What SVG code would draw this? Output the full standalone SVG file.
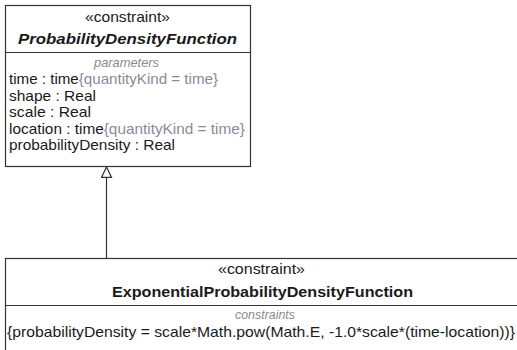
<svg xmlns="http://www.w3.org/2000/svg" width="517" height="350" viewBox="0 0 517 350">
<defs>
<style>
.box{fill:#fff;stroke:#333;stroke-width:1.2}
.div{stroke:#333;stroke-width:1.2}
text{font-family:"Liberation Sans",Arial,sans-serif;font-size:15px;fill:#1a1a1a}
.c{text-anchor:middle}
.b{font-weight:bold}
.bi{font-weight:bold;font-style:italic}
.cap{font-style:italic;fill:#8a8a8a;font-size:13px}
.g{fill:#8a8a9a}
.edge{stroke:#333;stroke-width:1.2;fill:none}
</style>
<marker id="gen" markerWidth="14" markerHeight="12" refX="11" refY="6" orient="auto" markerUnits="userSpaceOnUse">
<path d="M11,6 L0.6,1 L0.6,11 Z" fill="#fff" stroke="#333" stroke-width="1.2"/>
</marker>
</defs>
<g id="ProbabilityDensityFunction">
<rect class="box" x="5.5" y="5.5" width="245" height="161"/>
<line class="div" x1="5.5" y1="52.5" x2="250.5" y2="52.5"/>
<text class="c" x="127.5" y="22" textLength="85" lengthAdjust="spacingAndGlyphs">«constraint»</text>
<text class="c bi" x="127.5" y="44" textLength="219" lengthAdjust="spacingAndGlyphs">ProbabilityDensityFunction</text>
<text class="c cap" x="126.5" y="67" textLength="65" lengthAdjust="spacingAndGlyphs">parameters</text>
<text x="9" y="84" textLength="209" lengthAdjust="spacingAndGlyphs">time : time<tspan class="g">{quantityKind = time}</tspan></text>
<text x="9" y="100.5" textLength="87" lengthAdjust="spacingAndGlyphs">shape : Real</text>
<text x="9" y="117" textLength="82" lengthAdjust="spacingAndGlyphs">scale : Real</text>
<text x="9" y="133.5" textLength="236" lengthAdjust="spacingAndGlyphs">location : time<tspan class="g">{quantityKind = time}</tspan></text>
<text x="9" y="150" textLength="166" lengthAdjust="spacingAndGlyphs">probabilityDensity : Real</text>
</g>
<g id="ExponentialProbabilityDensityFunction">
<rect class="box" x="5.5" y="258.5" width="520" height="100"/>
<line class="div" x1="5.5" y1="305.5" x2="525" y2="305.5"/>
<text class="c" x="261.5" y="274" textLength="87" lengthAdjust="spacingAndGlyphs">«constraint»</text>
<text class="c b" x="262.5" y="297" textLength="301" lengthAdjust="spacingAndGlyphs">ExponentialProbabilityDensityFunction</text>
<text class="c cap" x="265" y="319" textLength="60" lengthAdjust="spacingAndGlyphs">constraints</text>
<text x="7" y="337" textLength="508" lengthAdjust="spacingAndGlyphs">{probabilityDensity = scale*Math.pow(Math.E, -1.0*scale*(time-location))}</text>
</g>
<g id="connectors">
<path class="edge" d="M106.5,258 L106.5,167" marker-end="url(#gen)"/>
</g>
</svg>
